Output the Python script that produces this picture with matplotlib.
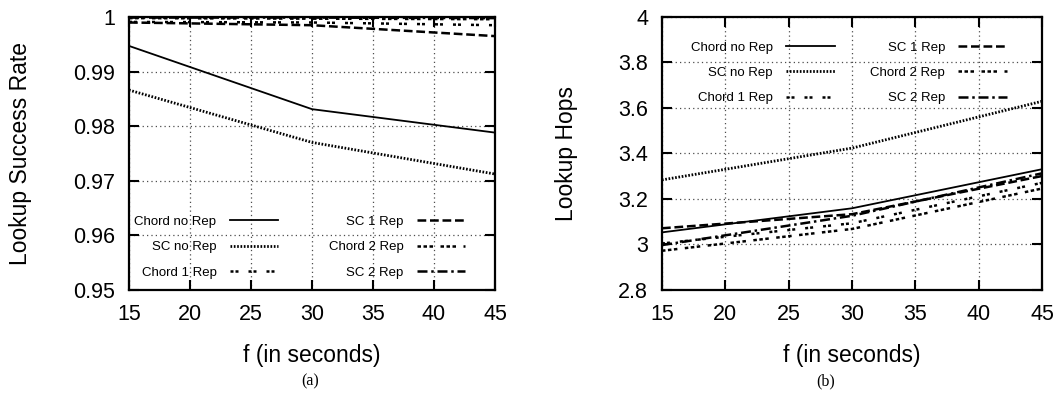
import matplotlib
matplotlib.use("Agg")
import matplotlib.pyplot as plt

plt.rcParams['font.family'] = ['Liberation Sans', 'DejaVu Sans']

# f (seconds)
f_sec = [15, 30, 45]

labels = ["Chord no Rep", "SC no Rep", "Chord 1 Rep", "SC 1 Rep", "Chord 2 Rep", "SC 2 Rep"]

# (a) lookup success rate
chord_no_rep_sr = [0.9947, 0.9831, 0.9788]
sc_no_rep_sr = [0.9866, 0.9770, 0.9712]
chord_1_rep_sr = [0.9991, 0.9990, 0.9985]
sc_1_rep_sr = [0.9990, 0.9985, 0.9965]
chord_2_rep_sr = [0.9998, 0.9997, 0.9996]
sc_2_rep_sr = [0.9999, 0.9999, 0.9998]

# (b) lookup hops
chord_no_rep_h = [3.052, 3.158, 3.330]
sc_no_rep_h = [3.283, 3.423, 3.629]
chord_1_rep_h = [3.003, 3.092, 3.270]
sc_1_rep_h = [3.070, 3.132, 3.300]
chord_2_rep_h = [2.971, 3.067, 3.245]
sc_2_rep_h = [2.996, 3.125, 3.312]

styles = [
    dict(ls="-", lw=1.3),
    dict(ls=(0, (0.6, 0.6)), lw=2.0),
    dict(ls=(0, (1.2, 0.8, 1.2, 4)), lw=1.8),
    dict(ls=(0, (3.5, 1.5)), lw=1.8),
    dict(ls=(0, (1.4, 1, 1.4, 1, 1.4, 3)), lw=1.8),
    dict(ls=(0, (4, 1.5, 1, 1.5)), lw=1.8),
]

fig = plt.figure(figsize=(10.6, 3.97), dpi=100)
ax1 = fig.add_axes([0.1217, 0.2705, 0.3453, 0.6866])
ax2 = fig.add_axes([0.6245, 0.2705, 0.3585, 0.6866])


def style_axis(ax):
    ax.set_xlim(15, 45)
    ax.set_xticks([15, 20, 25, 30, 35, 40, 45])
    ax.grid(True, color="0.3", linestyle=(0, (1, 2.5)), linewidth=0.9)
    ax.tick_params(direction="in", length=7, width=1.5, top=True, right=True,
                   labelsize=15.5, pad=10)
    for s in ax.spines.values():
        s.set_linewidth(1.6)
    ax.set_xlabel("f (in seconds)", fontsize=16.5, labelpad=14)


series_a = [chord_no_rep_sr, sc_no_rep_sr, chord_1_rep_sr, sc_1_rep_sr, chord_2_rep_sr, sc_2_rep_sr]
for vals, lab, st in zip(series_a, labels, styles):
    ax1.plot(f_sec, vals, color="black", label=lab, **st)
style_axis(ax1)
ax1.set_ylim(0.95, 1.0)
ax1.set_yticks([0.95, 0.96, 0.97, 0.98, 0.99, 1.0])
ax1.set_yticklabels(["0.95", "0.96", "0.97", "0.98", "0.99", "1"])
ax1.set_ylabel("Lookup Success Rate", fontsize=16.5)
ax1.yaxis.set_label_coords(-0.265, 0.5)
ax1.legend(ncol=2, frameon=False, markerfirst=False, fontsize=9.5,
           loc="lower center", bbox_to_anchor=(0.467, 0.015), borderpad=0,
           handlelength=3.7, handletextpad=1.0, columnspacing=3.8,
           labelspacing=1.0)

series_b = [chord_no_rep_h, sc_no_rep_h, chord_1_rep_h, sc_1_rep_h, chord_2_rep_h, sc_2_rep_h]
for vals, lab, st in zip(series_b, labels, styles):
    ax2.plot(f_sec, vals, color="black", label=lab, **st)
style_axis(ax2)
ax2.set_ylim(2.8, 4.0)
ax2.set_yticks([2.8, 3.0, 3.2, 3.4, 3.6, 3.8, 4.0])
ax2.set_yticklabels(["2.8", "3", "3.2", "3.4", "3.6", "3.8", "4"])
ax2.set_ylabel("Lookup Hops", fontsize=16.5)
ax2.yaxis.set_label_coords(-0.221, 0.5)
ax2.legend(ncol=2, frameon=False, markerfirst=False, fontsize=9.5,
           loc="upper center", bbox_to_anchor=(0.492, 0.935), borderpad=0,
           handlelength=3.7, handletextpad=1.0, columnspacing=2.7,
           labelspacing=1.0)

fig.text(0.293, 0.03, "(a)", fontsize=11.5, family="Liberation Serif", ha="center")
fig.text(0.779, 0.03, "(b)", fontsize=11.5, family="Liberation Serif", ha="center")

fig.savefig("out.png", dpi=100)
